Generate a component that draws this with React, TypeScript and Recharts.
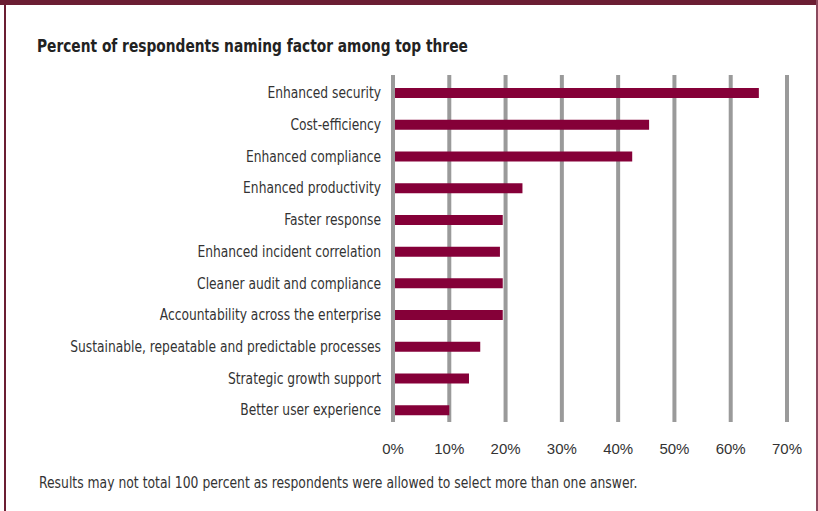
import { BarChart, Bar, XAxis, YAxis, CartesianGrid, ReferenceLine } from "recharts";

const factors = [
  "Enhanced security",
  "Cost-efficiency",
  "Enhanced compliance",
  "Enhanced productivity",
  "Faster response",
  "Enhanced incident correlation",
  "Cleaner audit and compliance",
  "Accountability across the enterprise",
  "Sustainable, repeatable and predictable processes",
  "Strategic growth support",
  "Better user experience",
];

const percents = [65, 45.5, 42.5, 23, 19.5, 19, 19.5, 19.5, 15.5, 13.5, 10];

const xTicks = [0, 10, 20, 30, 40, 50, 60, 70];

const title = "Percent of respondents naming factor among top three";
const footnote =
  "Results may not total 100 percent as respondents were allowed to select more than one answer.";

const chartData = factors.map((factor, i) => ({ factor, value: percents[i] }));

// no narrow face installed, so the condensed face gets squeezed a bit more
const narrow = "'Liberation Sans Narrow', 'DejaVu Sans Condensed', 'Arial Narrow', sans-serif";
const FRAME = "#6b1e33";
const BAR = "#850038";
const GRID = "#9a9a9a";

function FactorTick({ x, y, payload }: any) {
  return (
    <text
      transform={`translate(${x},${y}) scale(0.91,1)`}
      textAnchor="end"
      dy="0.355em"
      fontSize={15}
      fill="#333"
      fontFamily={narrow}
    >
      {payload.value}
    </text>
  );
}

export default function App() {
  return (
    <div
      style={{
        position: "absolute",
        left: 0,
        top: 0,
        width: 818,
        height: 511,
        background: "#fff",
        overflow: "hidden",
      }}
    >
      {/* frame: heavy top rule, thin side rules */}
      <div style={{ position: "absolute", left: 0, top: 0, width: 818, height: 5, background: FRAME }} />
      <div style={{ position: "absolute", left: 4, top: 0, width: 2, height: 511, background: FRAME }} />
      <div style={{ position: "absolute", left: 816, top: 0, width: 2, height: 511, background: "#8a4a5e" }} />

      <div
        style={{
          position: "absolute",
          left: 37,
          top: 35,
          fontFamily: narrow,
          fontWeight: "bold",
          fontSize: 18,
          lineHeight: "22px",
          color: "#222",
          whiteSpace: "nowrap",
          transform: "scaleX(0.85)",
          transformOrigin: "left center",
        }}
      >
        {title}
      </div>

      <div style={{ position: "absolute", left: 0, top: 0 }}>
        <BarChart
          width={818}
          height={511}
          data={chartData}
          layout="vertical"
          margin={{ top: 75, right: 31, left: 0, bottom: 59 }}
          barSize={10}
        >
          <CartesianGrid horizontal={false} stroke={GRID} strokeWidth={4} />
          <XAxis
            type="number"
            domain={[0, 70]}
            ticks={xTicks}
            tickFormatter={(v) => `${v}%`}
            axisLine={false}
            tickLine={false}
            tickMargin={15}
            height={30}
            tick={{ fontSize: 15, fill: "#333", fontFamily: "'Liberation Sans', Arial, sans-serif" }}
            interval={0}
          />
          <YAxis
            type="category"
            dataKey="factor"
            width={393}
            axisLine={false}
            tickLine={false}
            tickMargin={6}
            interval={0}
            padding={{ top: 2, bottom: -4 }}
            tick={<FactorTick />}
          />
          <Bar dataKey="value" fill={BAR} isAnimationActive={false} />
          <ReferenceLine x={0} stroke={GRID} strokeWidth={4} />
        </BarChart>
      </div>

      <div
        style={{
          position: "absolute",
          left: 39,
          top: 474,
          fontFamily: narrow,
          fontSize: 15,
          lineHeight: "18px",
          color: "#333",
          whiteSpace: "nowrap",
          transform: "scaleX(0.917)",
          transformOrigin: "left center",
        }}
      >
        {footnote}
      </div>
    </div>
  );
}
